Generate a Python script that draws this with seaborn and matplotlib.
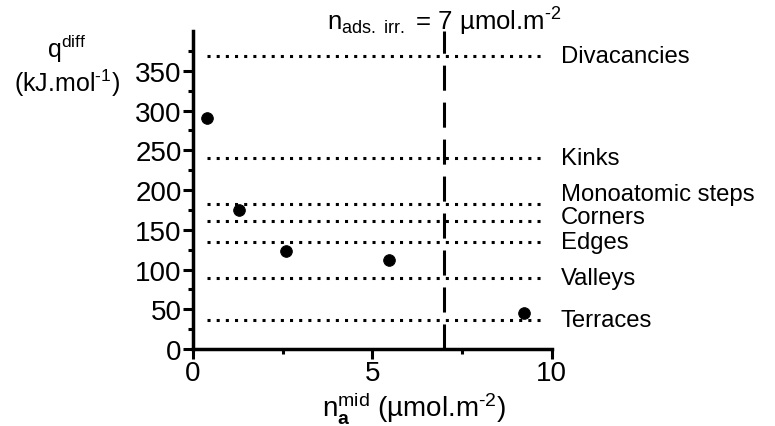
import numpy as np
import seaborn as sns
import matplotlib.pyplot as plt

# measured points
n_mid = [0.40, 1.28, 2.59, 5.46, 9.22]
q_diff = [291, 175, 124, 112, 46]

# reference energies of surface sites (kJ/mol)
site_names = ['Divacancies', 'Kinks', 'Monoatomic steps', 'Corners', 'Edges', 'Valleys', 'Terraces']
site_q = [368, 240, 183, 161, 135, 90, 37]
# small vertical nudges for the labels so they don't collide
label_nudge = [0, 0, 12, 5, 0, 0, 0]

n_irr = 7

sns.set_style('ticks')
plt.rcParams['font.family'] = ['Liberation Sans', 'DejaVu Sans']
plt.rcParams['mathtext.fontset'] = 'custom'
plt.rcParams['mathtext.rm'] = 'Liberation Sans'
plt.rcParams['mathtext.it'] = 'Liberation Sans'
plt.rcParams['mathtext.bf'] = 'Liberation Sans:bold'
plt.rcParams['text.color'] = 'black'
plt.rcParams['axes.labelcolor'] = 'black'
plt.rcParams['xtick.color'] = 'black'
plt.rcParams['ytick.color'] = 'black'
plt.rcParams['axes.edgecolor'] = 'black'

fig = plt.figure(figsize=(7.75, 4.27), dpi=100)
ax = fig.add_axes([0.249, 0.180, 0.463, 0.745])

# dotted reference lines + labels
ax.hlines(site_q, 0.39, 9.8, colors='black', linestyles=(0, (1, 2)), linewidth=2.2)
for name, q, dy in zip(site_names, site_q, label_nudge):
    ax.text(10.25, q + dy, name, fontsize=17.2, va='center', ha='left', clip_on=False)

# irreversible adsorption limit
ax.axvline(n_irr, color='black', linewidth=2.2, dashes=(8.2, 3.9))
ax.text(n_irr, 402, r'n$_{\mathrm{ads.\ irr.}}$ = 7 µmol.m$^{\text{-2}}$', fontsize=18.5,
        ha='center', va='baseline')

sns.scatterplot(x=n_mid, y=q_diff, color='black', s=70, edgecolor='black', ax=ax, zorder=5)

ax.set_xlim(0, 10)
ax.set_ylim(0, 400)
ax.set_xticks([0, 5, 10])
ax.set_xticks([2.5, 7.5], minor=True)
ax.set_yticks(np.arange(0, 351, 50))
ax.set_yticks(np.arange(25, 400, 50), minor=True)
ax.tick_params(axis='both', which='major', labelsize=20, width=2.2, length=7, pad=1)
ax.tick_params(axis='both', which='minor', width=2.2, length=3.5)
for s in ['left', 'bottom']:
    ax.spines[s].set_linewidth(2.5)
sns.despine(ax=ax)

ax.set_xlabel(r'n$_{\mathbf{a}}^{\mathrm{mid}}$ (µmol.m$^{\text{-2}}$)', fontsize=20, labelpad=0)
ax.xaxis.set_label_coords(0.615, -0.125, transform=ax.transAxes)
ax.xaxis.label.set_va('top')
fig.text(0.086, 0.885, r'q$^{\mathrm{diff}}$', fontsize=18, ha='center', va='center')
fig.text(0.086, 0.805, r'(kJ.mol$^{\text{-1}}$)', fontsize=18, ha='center', va='center')

fig.savefig('out.png', dpi=100)
